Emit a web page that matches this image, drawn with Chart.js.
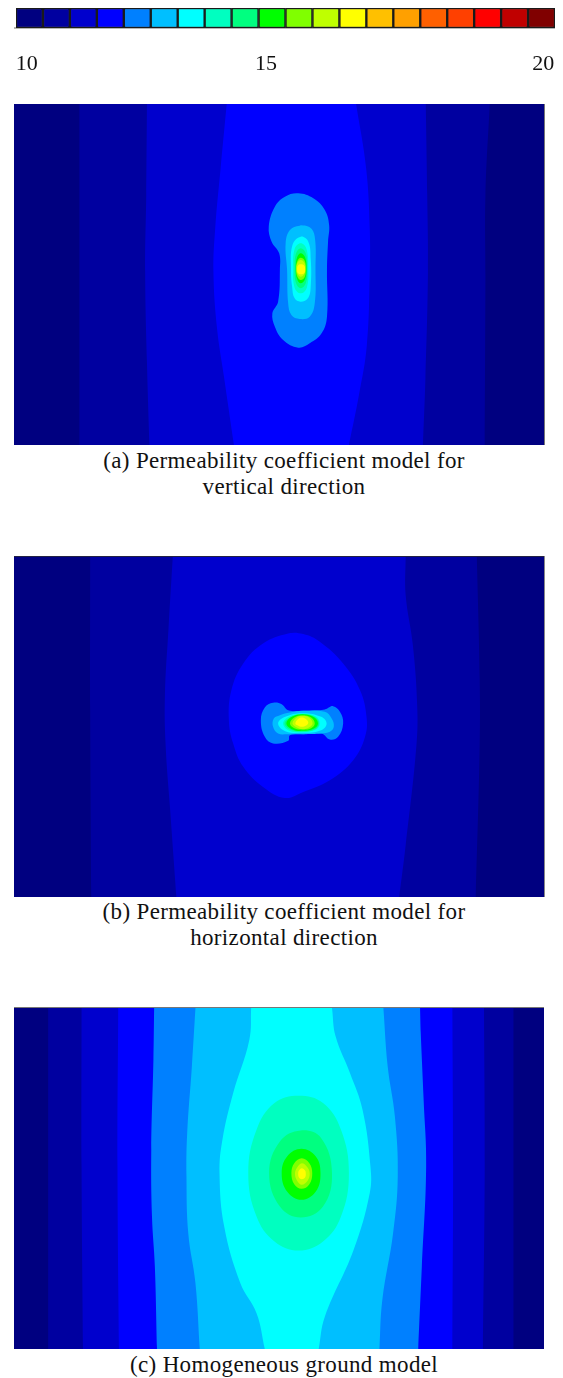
<!DOCTYPE html>
<html><head><meta charset="utf-8">
<script src="https://cdn.jsdelivr.net/npm/chart.js@4"></script>
<style>
html,body{margin:0;padding:0;background:#fff;width:563px;height:1378px;overflow:hidden}
canvas{position:absolute;display:block}
.cap{position:absolute;left:0;width:568px;text-align:center;font:23px/26px "Liberation Serif",serif;letter-spacing:.35px;color:#111}
.edge{position:absolute}
</style></head><body>
<div class="edge" style="left:14px;top:27px;width:541px;height:2px;background:#b5b5b5"></div>
<canvas id="bar" style="left:0;top:0"></canvas>
<canvas id="pa" style="left:14px;top:104px"></canvas>
<canvas id="pb" style="left:14px;top:556px"></canvas>
<canvas id="pc" style="left:14px;top:1008px"></canvas>
<div class="edge" style="left:544px;top:104px;width:1px;height:341px;background:#777"></div>
<div class="edge" style="left:544px;top:556px;width:1px;height:341px;background:#888"></div>
<div class="edge" style="left:14px;top:1007px;width:530px;height:1px;background:#777"></div>
<div class="edge" style="left:14px;top:556px;width:530px;height:1px;background:#224"></div>
<div class="cap" style="top:448px">(a) Permeability coefficient model for<br>vertical direction</div>
<div class="cap" style="top:899px">(b) Permeability coefficient model for<br>horizontal direction</div>
<div class="cap" style="top:1352px">(c) Homogeneous ground model</div>
<script>
// colour scale
const levelColors=['#000080','#0000a0','#0000cd','#0000ff','#0080ff','#00bfff','#00ffff','#00ffc0','#00ff80','#00ff00','#80ff00','#bfff00','#ffff00','#ffc000','#ffa000','#ff6000','#ff4000','#ff0000','#c00000','#800000'];
const levelEdges=[10,10.5,11,11.5,12,12.5,13,13.5,14,14.5,15,15.5,16,16.5,17,17.5,18,18.5,19,19.5,20];
const tickLabels=['10','15','20'];
const tickPlaces=[10.2,14.64,19.78];

// panel (a) contour outlines, level index = array position + 1
const a2=[[222,27],[222,500],[222,1050],[1350,1050],[1352,540],[1352,300],[1364,27]];
const a3=[[410,27],[408,300],[405,530],[410,800],[417,1050],[1178,1050],[1185,850],[1192,530],[1190,300],[1186,27]];
const a4=[[632,27],[615,220],[600,400],[595,530],[605,700],[625,850],[652,1050],[972,1050],[1000,900],[1022,750],[1030,530],[1030,400],[1020,220],[992,27]];
const a5=[[831,295],[873,310],[905,345],[917,390],[914,440],[911,525],[911,665],[896,715],[863,745],[831,758],[789,735],[766,695],[759,655],[775,620],[780,525],[778,475],[757,440],[749,395],[766,335],[794,305],[831,295]];
const a6=[[835,392],[863,397],[877,425],[879,525],[877,625],[863,665],[835,672],[812,660],[803,625],[800,525],[796,445],[808,405],[835,392]];
const a7=[[838,425],[859,440],[866,495],[866,570],[859,608],[838,620],[821,610],[814,575],[811,525],[815,450],[838,425]];
const a8=[[838,445],[854,462],[859,520],[855,578],[838,595],[821,578],[817,520],[821,462],[838,445]];
const a9=[[838,460],[852,475],[856,520],[852,565],[838,580],[825,565],[821,520],[825,475],[838,460]];
const a10=[[838,475],[850,487],[854,520],[850,553],[838,565],[828,553],[824,520],[828,487],[838,475]];
const a11=[[838,488],[849,497],[852,522],[849,546],[838,555],[829,546],[825,522],[829,497],[838,488]];
const a12=[[838,495],[848,503],[851,520],[848,537],[838,545],[829,537],[826,520],[829,503],[838,495]];
const a13=[[838,508],[848,512],[850,523],[848,534],[838,538],[830,534],[828,523],[830,512],[838,508]];

// panel (b)
const b2=[[252,33],[252,500],[255,1055],[1325,1055],[1336,600],[1336,400],[1328,33]];
const b3=[[482,33],[470,250],[460,450],[462,600],[475,800],[492,1055],[1112,1055],[1130,900],[1160,600],[1162,480],[1150,300],[1130,150],[1130,33]];
const b4=[[803,265],[845,267],[891,290],[956,355],[1003,435],[1021,515],[1017,575],[984,645],[919,705],[845,740],[794,758],[733,725],[678,665],[650,595],[638,525],[645,435],[678,355],[733,295],[803,265]];
const b5=[[761,473],[785,477],[803,495],[845,497],[905,493],[928,483],[947,500],[956,535],[942,575],[919,583],[896,565],[854,567],[808,570],[803,587],[761,595],[738,575],[727,525],[738,487],[761,473]];
const b6=[[780,510],[808,502],[845,497],[905,500],[924,520],[930,545],[919,560],[896,565],[845,567],[803,567],[775,565],[761,545],[763,520],[780,510]];
const b7=[[775,535],[795,515],[843,504],[895,515],[910,535],[895,555],[843,563],[795,558],[775,535]];
const b8=[[789,535],[805,515],[843,506],[880,514],[891,535],[880,553],[843,561],[805,556],[789,535]];
const b9=[[793,535],[810,516],[843,507],[878,516],[889,535],[878,552],[843,559],[810,554],[793,535]];
const b10=[[798,535],[813,515],[843,507],[875,516],[886,535],[875,550],[843,557],[813,552],[798,535]];
const b11=[[808,535],[820,517],[843,511],[867,517],[877,535],[867,549],[843,553],[820,549],[808,535]];
const b12=[[815,535],[826,518],[843,512],[862,518],[871,535],[862,546],[843,552],[826,546],[815,535]];
const b13=[[823,535],[830,522],[841,517],[853,522],[859,532],[853,541],[841,545],[830,541],[823,535]];

// panel (c)
const c2=[[135,25],[135,500],[135,1047],[1430,1047],[1430,500],[1430,25]];
const c3=[[228,25],[228,500],[232,1047],[1345,1047],[1350,500],[1348,25]];
const c4=[[330,25],[328,500],[332,1047],[1260,1047],[1262,500],[1260,25]];
const c5=[[430,25],[428,180],[422,450],[424,650],[432,800],[438,1047],[1165,1047],[1175,800],[1187,500],[1180,300],[1172,100],[1170,25]];
const c6=[[545,25],[535,200],[522,400],[520,530],[525,700],[545,850],[557,1047],[1057,1047],[1065,900],[1095,700],[1108,530],[1100,350],[1080,200],[1068,25]];
const c7=[[700,25],[695,120],[650,280],[620,420],[612,520],[625,680],[670,850],[715,940],[738,1047],[888,1047],[905,950],[985,750],[1030,580],[1032,500],[1010,330],[975,220],[935,110],[925,25]];
const c8=[[832,288],[900,310],[950,390],[972,520],[950,650],[900,725],[832,752],[765,725],[715,650],[692,520],[715,390],[765,310],[832,288]];
const c9=[[838,392],[895,415],[925,520],[900,620],[838,653],[780,620],[750,520],[780,425],[838,392]];
const c10=[[840,447],[880,470],[893,520],[880,575],[840,600],[800,575],[785,520],[800,470],[840,447]];
const c11=[[841,475],[862,490],[870,520],[862,553],[840,567],[820,553],[812,520],[820,490],[841,475]];
const c12=[[841,490],[857,503],[863,522],[857,543],[841,555],[828,543],[822,522],[828,503],[841,490]];
const c13=[[841,505],[850,512],[852,522],[850,533],[841,538],[833,533],[831,522],[833,512],[841,505]];

const panelA=[a2,a3,a4,a5,a6,a7,a8,a9,a10,a11,a12,a13];
const panelB=[b2,b3,b4,b5,b6,b7,b8,b9,b10,b11,b12,b13];
const panelC=[c2,c3,c4,c5,c6,c7,c8,c9,c10,c11,c12,c13];
const xRange=[40,1515];

// outlines reaching the panel's lower edge keep a sharp corner there (a repeated vertex);
// closed outlines overlap by one vertex so the curve has no kink at the seam
function outline(o,yMax){
  const n=o.length;
  if(o[0][0]===o[n-1][0]&&o[0][1]===o[n-1][1]) return [o[n-2],...o,o[1]];
  const r=[];
  o.forEach(p=>{r.push(p);if(p[1]===yMax)r.push(p);});
  return r;
}
function drawPanel(id,bands,yMin,yMax){
  const cv=document.getElementById(id);
  const base=[[xRange[0],yMin],[xRange[1],yMin],[xRange[1],yMax],[xRange[0],yMax],[xRange[0],yMin]];
  const all=[base].concat(bands.map(o=>outline(o,yMax)));
  new Chart(cv,{type:'scatter',data:{datasets:all.map((o,i)=>({
    data:o.map(p=>({x:p[0],y:p[1]})),
    showLine:true,fill:'shape',backgroundColor:levelColors[i],borderWidth:0,borderColor:'transparent',
    pointRadius:0,tension:i===0?0:0.4,order:-i}))},
    options:{responsive:false,animation:false,devicePixelRatio:1,
      layout:{padding:0,autoPadding:false},
      plugins:{legend:{display:false},tooltip:{enabled:false}},
      scales:{x:{type:'linear',display:false,min:xRange[0],max:xRange[1]},
              y:{type:'linear',display:false,reverse:true,min:yMin,max:yMax}}}});
}
function size(id,w,h){const c=document.getElementById(id);c.width=w;c.height=h;c.style.width=w+'px';c.style.height=h+'px';}
size('pa',530,341);size('pb',530,341);size('pc',530,341);size('bar',563,80);
drawPanel('pa',panelA,27,1050);
drawPanel('pb',panelB,33,1055);
drawPanel('pc',panelC,25,1047);

new Chart(document.getElementById('bar'),{type:'bar',
  data:{labels:['scale'],datasets:levelColors.map((col,i)=>({
    data:[[levelEdges[i],levelEdges[i+1]]],backgroundColor:col,borderColor:'#1a1a1a',borderWidth:1.5,borderSkipped:false,
    barPercentage:1,categoryPercentage:1,grouped:false}))},
  options:{indexAxis:'y',responsive:false,animation:false,devicePixelRatio:1,
    layout:{autoPadding:false,padding:{left:16,right:8,top:8,bottom:0}},
    plugins:{legend:{display:false},tooltip:{enabled:false}},
    scales:{
      y:{display:false,stacked:true},
      x:{min:10,max:20,grid:{display:false,drawTicks:false},border:{display:false},
         afterBuildTicks:s=>{s.ticks=tickPlaces.map(v=>({value:v}));},
         afterFit:s=>{s.height=52;s.paddingLeft=0;s.paddingRight=0;},
         ticks:{autoSkip:false,maxRotation:0,color:'#111',padding:23,
           font:{family:'"Liberation Serif"',size:22},
           callback:(v,i)=>tickLabels[i]}}}}});
</script>
</body></html>
